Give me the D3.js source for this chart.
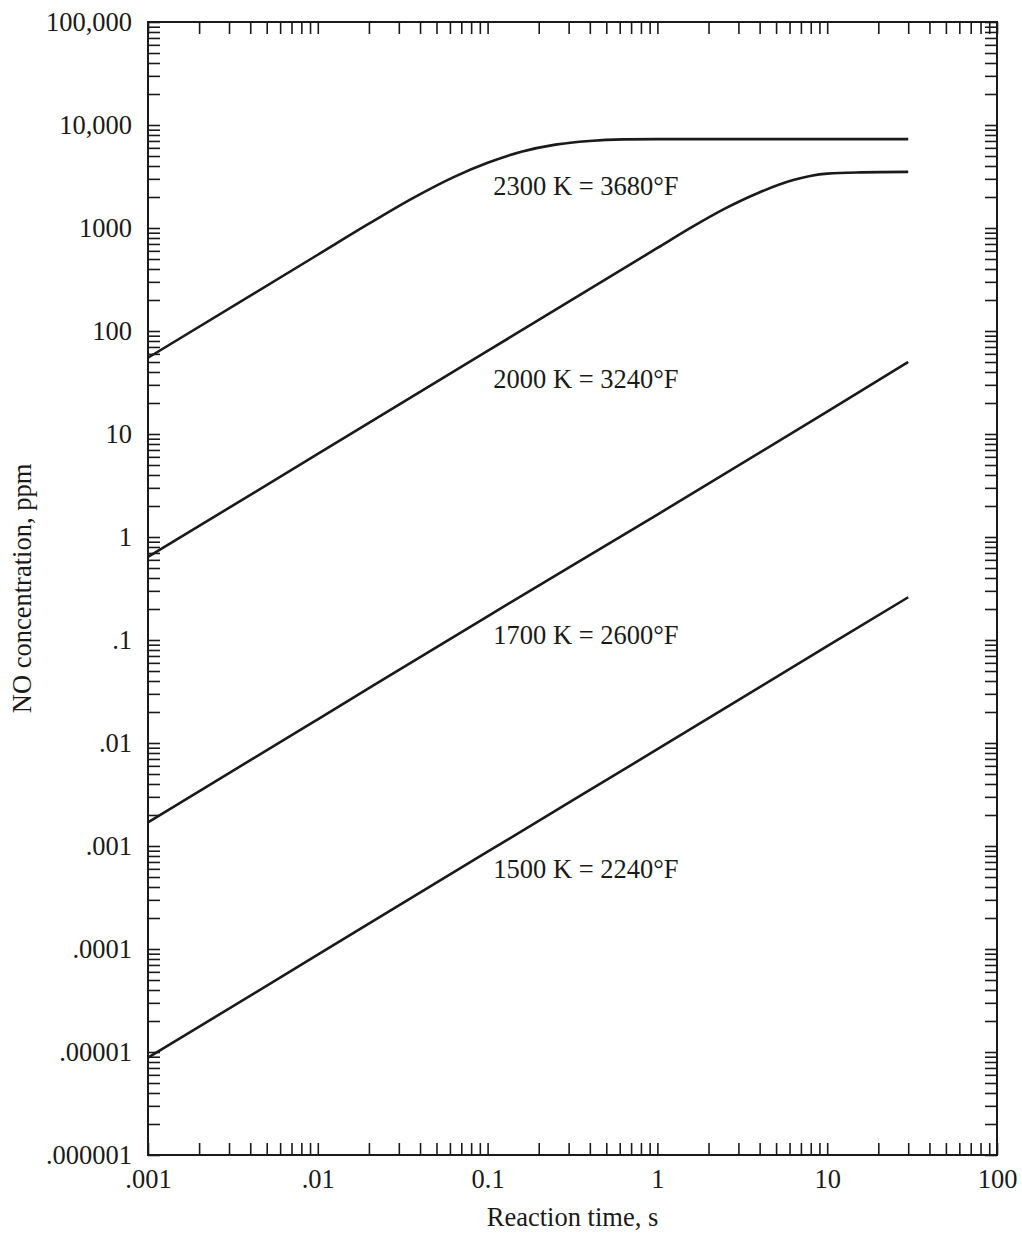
<!DOCTYPE html>
<html>
<head>
<meta charset="utf-8">
<script src="https://cdn.jsdelivr.net/npm/d3@7"></script>
<style>
  html, body { margin: 0; padding: 0; background: #fff; }
  svg { display: block; }
  text { font-family: "Liberation Serif", "Times New Roman", serif; fill: #1a1a1a; }
</style>
</head>
<body>
<svg id="chart" width="1022" height="1233"></svg>
<script>
// ---- data ----
const xTickValues = [0.001, 0.01, 0.1, 1, 10, 100];
const xTickLabels = [".001", ".01", "0.1", "1", "10", "100"];
const yTickValues = [1e5, 1e4, 1e3, 100, 10, 1, 0.1, 0.01, 0.001, 1e-4, 1e-5, 1e-6];
const yTickLabels = ["100,000", "10,000", "1000", "100", "10", "1", ".1", ".01", ".001", ".0001", ".00001", ".000001"];

const time2300 = [0.001, 0.01, 0.02, 0.0363, 0.0631, 0.1, 0.158, 0.251, 0.398, 0.631, 1, 10, 30];
const conc2300 = [55, 550, 1100, 1950, 3120, 4300, 5500, 6450, 7000, 7250, 7300, 7300, 7300];

const time2000 = [0.001, 0.01, 0.1, 1, 1.585, 2.512, 3.981, 6.31, 7.94, 10, 15.85, 30];
const conc2000 = [0.64, 6.4, 64, 640, 1014, 1550, 2213, 2917, 3199, 3373, 3467, 3508];

const time1700 = [0.001, 0.01, 0.1, 1, 10, 30];
const conc1700 = [0.0017, 0.017, 0.17, 1.65, 16.5, 50];

const time1500 = [0.001, 0.01, 0.1, 1, 10, 30];
const conc1500 = [0.0000088, 0.000088, 0.00088, 0.0087, 0.087, 0.26];

const seriesNames = ["2300 K = 3680°F", "2000 K = 3240°F", "1700 K = 2600°F", "1500 K = 2240°F"];
const labelTime = [0.108, 0.108, 0.108, 0.108];
const labelConc = [2100, 28, 0.091, 0.00049];

const xTitle = "Reaction time, s";
const yTitle = "NO concentration, ppm";

// ---- layout ----
const margin = { left: 148, top: 22, right: 25, bottom: 78 };
const W = 1022, H = 1233;
const iw = W - margin.left - margin.right;   // 849
const ih = H - margin.top - margin.bottom;   // 1133
const FS = 26.5;

const svg = d3.select("#chart");
const g = svg.append("g").attr("transform", `translate(${margin.left},${margin.top})`);

const x = d3.scaleLog().domain([0.001, 100]).range([0, iw]);
const y = d3.scaleLog().domain([1e-6, 1e5]).range([ih, 0]);

// all 1..9 ticks per decade
function logTicks(lo, hi) {
  const out = [];
  for (let e = Math.round(Math.log10(lo)); e < Math.round(Math.log10(hi)); e++) {
    for (let m = 1; m <= 9; m++) out.push(m * Math.pow(10, e));
  }
  out.push(hi);
  return out;
}
const xMinor = logTicks(0.001, 100);
const yMinor = logTicks(1e-6, 1e5);

const near = (a, b) => Math.abs(Math.log10(a) - Math.log10(b)) < 1e-6;
const xFmt = d => { const i = xTickValues.findIndex(v => near(v, d)); return i >= 0 ? xTickLabels[i] : ""; };
const yFmt = d => { const i = yTickValues.findIndex(v => near(v, d)); return i >= 0 ? yTickLabels[i] : ""; };

const tickLen = 12;
function styleAxis(sel) {
  sel.select(".domain").remove();
  sel.selectAll(".tick line").attr("stroke", "#1a1a1a").attr("stroke-width", 1.6);
  sel.selectAll(".tick text").attr("font-size", FS).attr("fill", "#1a1a1a")
     .style("font-family", '"Liberation Serif", serif');
}

g.append("g").attr("transform", `translate(0,${ih})`)
  .call(d3.axisBottom(x).tickValues(xMinor).tickFormat(xFmt).tickSize(-tickLen).tickPadding(14))
  .call(styleAxis);
g.append("g")
  .call(d3.axisTop(x).tickValues(xMinor).tickFormat("").tickSize(-tickLen))
  .call(styleAxis);
g.append("g")
  .call(d3.axisLeft(y).tickValues(yMinor).tickFormat(yFmt).tickSize(-tickLen).tickPadding(16))
  .call(styleAxis);
g.append("g").attr("transform", `translate(${iw},0)`)
  .call(d3.axisRight(y).tickValues(yMinor).tickFormat("").tickSize(-tickLen))
  .call(styleAxis);

// frame
g.append("rect").attr("x", 0).attr("y", 0).attr("width", iw).attr("height", ih)
  .attr("fill", "none").attr("stroke", "#1a1a1a").attr("stroke-width", 2);

// curves
const series = [
  { t: time2300, c: conc2300 },
  { t: time2000, c: conc2000 },
  { t: time1700, c: conc1700 },
  { t: time1500, c: conc1500 }
];
const line = d3.line().x(d => x(d[0])).y(d => y(d[1])).curve(d3.curveMonotoneX);
series.forEach(s => {
  g.append("path")
    .datum(s.t.map((tv, i) => [tv, s.c[i]]))
    .attr("d", line)
    .attr("fill", "none")
    .attr("stroke", "#1a1a1a")
    .attr("stroke-width", 2.6)
    .attr("stroke-linejoin", "round");
});

// curve labels
seriesNames.forEach((name, i) => {
  g.append("text")
    .attr("x", x(labelTime[i]))
    .attr("y", y(labelConc[i]))
    .attr("font-size", FS)
    .text(name);
});

// axis titles
svg.append("text")
  .attr("x", margin.left + iw / 2)
  .attr("y", 1226)
  .attr("text-anchor", "middle")
  .attr("font-size", FS)
  .text(xTitle);

svg.append("text")
  .attr("transform", `translate(31,${margin.top + ih / 2}) rotate(-90)`)
  .attr("text-anchor", "middle")
  .attr("font-size", FS)
  .text(yTitle);
</script>
</body>
</html>
